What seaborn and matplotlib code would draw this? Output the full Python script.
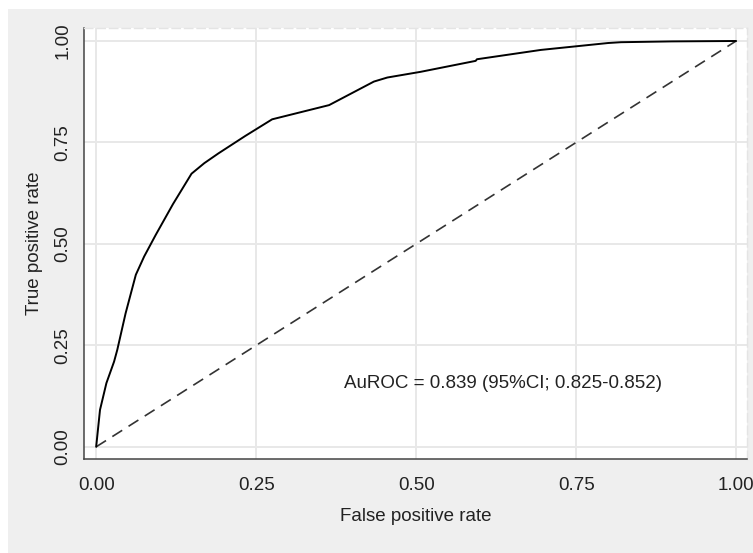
import numpy as np
import pandas as pd
import seaborn as sns
import matplotlib.pyplot as plt
from matplotlib.patches import Rectangle

# ROC curve points
fpr = [0.0, 0.006, 0.016, 0.028, 0.033, 0.046, 0.062, 0.075, 0.093, 0.120, 0.149,
       0.169, 0.191, 0.233, 0.275, 0.364, 0.434, 0.455, 0.507, 0.593, 0.595,
       0.695, 0.800, 0.820, 0.900, 1.0]
tpr = [0.0, 0.091, 0.157, 0.210, 0.239, 0.329, 0.424, 0.469, 0.522, 0.598, 0.673,
       0.699, 0.723, 0.766, 0.807, 0.842, 0.900, 0.910, 0.924, 0.951, 0.955,
       0.978, 0.995, 0.997, 0.999, 1.0]
ref_line = [0.0, 1.0]
note = 'AuROC = 0.839 (95%CI; 0.825-0.852)'
ticks = [0.0, 0.25, 0.5, 0.75, 1.0]
tick_labels = ['0.00', '0.25', '0.50', '0.75', '1.00']

sns.set_style('white')
plt.rcParams['font.family'] = ['Liberation Sans', 'DejaVu Sans']

fig = plt.figure(figsize=(7.53, 5.53), dpi=100, facecolor='white')
fig.add_artist(Rectangle((8 / 753, 0), 1, (553 - 9) / 553, transform=fig.transFigure,
                         facecolor='#efefef', edgecolor='none', zorder=-10))
ax = fig.add_axes([84 / 753, 1 - 459 / 553, (747 - 84) / 753, (459 - 28) / 553])
ax.set_facecolor('white')

ax.grid(True, color='#e8e8e8', linewidth=1.4)
ax.set_axisbelow(True)

df = pd.DataFrame({'fpr': fpr, 'tpr': tpr})
sns.lineplot(data=df, x='fpr', y='tpr', sort=False, estimator=None, color='black',
             linewidth=1.4, ax=ax, zorder=3)
sns.lineplot(x=ref_line, y=ref_line, color='#333333', linewidth=1.2, ax=ax,
             dashes=False, zorder=2)
ax.lines[-1].set_dashes([7, 4.5])

ax.set_xlim(-0.019, 1.017)
ax.set_ylim(-0.03, 1.032)
ax.set_xticks(ticks)
ax.set_xticklabels(tick_labels)
ax.set_yticks(ticks)
ax.set_yticklabels(tick_labels, rotation=90, va='center')
ax.tick_params(axis='both', direction='out', length=5, width=1, color='#444444',
               labelsize=13.5, labelcolor='#222222', pad=4)
ax.tick_params(axis='x', pad=8)

for side in ['left', 'bottom']:
    ax.spines[side].set_color('#444444')
    ax.spines[side].set_linewidth(1.1)
for side in ['top', 'right']:
    ax.spines[side].set_color('#e4e4e4')
    ax.spines[side].set_linestyle((0, (6, 3)))
    ax.spines[side].set_linewidth(1.0)

ax.set_xlabel('False positive rate', fontsize=13.5, color='#222222', labelpad=10)
ax.set_ylabel('True positive rate', fontsize=13.5, color='#222222', labelpad=8)

ax.text(0.387, 0.155, note, fontsize=13.5, color='#222222', ha='left', va='center')

fig.savefig('out.png', dpi=100, facecolor=fig.get_facecolor())
